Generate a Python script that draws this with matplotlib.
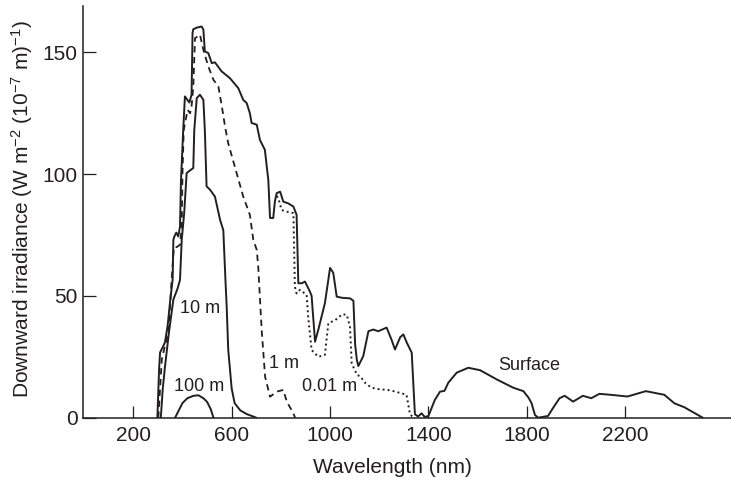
import matplotlib
matplotlib.use("Agg")
import matplotlib.pyplot as plt

plt.rcParams["font.family"] = ["Liberation Sans", "DejaVu Sans"]
plt.rcParams["mathtext.fontset"] = "custom"
plt.rcParams["mathtext.rm"] = "Liberation Sans"
plt.rcParams["mathtext.it"] = "Liberation Sans:italic"

# downward irradiance spectra
wl_surface = [298, 305, 309, 320, 329, 340, 350, 360, 363, 367, 375, 383, 390,
              394, 403, 410, 420, 428, 437, 441, 444, 460, 478, 485, 491, 505,
              519, 532, 559, 593, 627, 647, 661, 674, 681, 702, 715, 735, 749,
              756, 769, 776, 783, 797, 810, 830, 851, 864, 871, 885, 898, 918,
              925, 939, 952, 979, 993, 1000, 1013, 1027, 1050, 1081, 1095, 1102,
              1109, 1115, 1135, 1156, 1176, 1196, 1230, 1250, 1264, 1285, 1298,
              1312, 1332, 1345, 1358, 1372, 1385, 1400, 1426, 1447, 1465, 1481,
              1515, 1562, 1610, 1678, 1745, 1786, 1807, 1819, 1833, 1846, 1886,
              1906, 1933, 1954, 1988, 2028, 2062, 2095, 2141, 2209, 2284, 2359,
              2400, 2440, 2515]
ir_surface = [0, 20, 26.8, 29, 31, 38, 48, 56.6, 73, 74.4, 76, 74.4, 78.5,
              97.6, 118, 131.9, 130.5, 129.4, 132.6, 158, 159.5, 160.2, 160.6,
              159.3, 150.4, 149.7, 145.6, 145.9, 142.2, 139.4, 135.3, 130.5,
              129.2, 125, 121, 120.3, 114, 110, 97.6, 82, 82, 89, 92.2, 92.8,
              88.7, 88, 86.7, 83.3, 55.2, 55.2, 55.9, 51.8, 50, 31.2, 36, 47,
              56.6, 61.5, 59.5, 49.7, 49.2, 49, 48, 30, 23.7, 21.2, 25.3, 35.5,
              36.2, 35.5, 37, 32, 28, 33, 34.2, 30.8, 26.7, 1.4, 0.5, 1.8, 0.3,
              0.7, 7.3, 10.7, 11, 14.4, 18.5, 20.5, 19.5, 15.7, 12.3, 10.9, 8.2,
              6, 1.1, 0, 0.7, 3.9, 8, 9, 6.6, 9, 8, 9.8, 9.4, 8.7, 10.9, 9.4,
              5.9, 4.3, 0]

wl_001m = [783, 790, 803, 823, 851, 857, 864, 878, 905, 911, 925, 952, 979,
           993, 1020, 1050, 1068, 1081, 1088, 1110, 1122, 1145, 1169, 1203, 1230,
           1258, 1290, 1311, 1325, 1340]
ir_001m = [91, 90, 85.3, 84.6, 84, 53.8, 51, 52.5, 50.4, 41.5, 27.8, 25, 25.8,
           38.8, 40, 42.5, 42.2, 37.4, 22.3, 17.5, 17.1, 14, 12.3, 11.6, 11.5,
           10.9, 10, 9.4, 1.4, 0]

wl_1m = [302, 316, 330, 343, 355, 365, 376, 390, 397, 400, 405, 421, 431, 437,
         444, 451, 471, 485, 505, 526, 546, 559, 573, 586, 613, 647, 674, 688,
         702, 708, 715, 722, 736, 756, 783, 810, 824, 851, 858]
ir_1m = [0, 24, 30, 35, 55, 70, 70, 71, 78, 100, 118, 126.4, 125, 127.8, 136,
         155.8, 157.3, 151, 144.2, 138.7, 136, 128.5, 119.6, 112.7, 103, 90.8,
         83.3, 73, 68.9, 62, 49, 36, 16.8, 8.6, 10.7, 11.4, 6.6, 1.8, 0]

wl_10m = [312, 320, 329, 345, 363, 380, 390, 397, 407, 417, 424, 444, 448, 458,
          471, 485, 491, 498, 512, 532, 553, 566, 575, 580, 586, 600, 612, 635,
          661, 700]
ir_10m = [0, 12, 21, 35, 48.5, 53, 56.6, 73, 84, 100.4, 101, 102.5, 118, 131.2,
          132.6, 130.5, 118, 95, 93.6, 90.8, 81.2, 77, 56, 45, 28, 12, 6, 3,
          1.5, 0]

wl_100m = [370, 385, 400, 420, 445, 465, 485, 500, 515, 526]
ir_100m = [0, 3, 6, 8, 9, 9.2, 8, 6.5, 3.5, 0]

labels = ["10 m", "100 m", "1 m", "0.01 m", "Surface"]
label_x = [471, 468, 812, 1000, 1810]
label_y = [45, 12.7, 22.3, 12.7, 21.6]

fig = plt.figure(figsize=(7.31, 4.82), dpi=100)
ax = fig.add_axes([0.114, 0.1334, 0.886, 0.854])

ink = "#231f20"
ax.plot(wl_surface, ir_surface, color=ink, lw=1.4)
ax.plot(wl_001m, ir_001m, color=ink, lw=1.4, linestyle=(0, (1, 1.6)))
ax.plot(wl_1m, ir_1m, color=ink, lw=1.3, linestyle=(0, (3.5, 2.5)))
ax.plot(wl_10m, ir_10m, color=ink, lw=1.4)
ax.plot(wl_100m, ir_100m, color=ink, lw=1.4)

for txt, x, y in zip(labels, label_x, label_y):
    ax.text(x, y, txt, fontsize=13, color=ink, ha="center", va="center")

ax.set_xlim(-3, 2630)
ax.set_ylim(0, 169)
ax.set_xticks([200, 600, 1000, 1400, 1800, 2200])
ax.set_yticks([0, 50, 100, 150])

for side in ["top", "right"]:
    ax.spines[side].set_visible(False)
for side in ["left", "bottom"]:
    ax.spines[side].set_linewidth(1.1)
    ax.spines[side].set_color(ink)

ax.tick_params(direction="in", length=9, width=0.9, color=ink,
               labelsize=15, labelcolor=ink)
ax.tick_params(axis="x", pad=6)
ax.tick_params(axis="y", pad=4)

ax.set_xlabel("Wavelength (nm)", fontsize=15, color=ink, va="center")
ax.xaxis.set_label_coords(0.478, -0.12)
ax.set_ylabel(r"Downward irradiance (W m$^{-2}$ (10$^{-7}$ m)$^{-1}$)",
              fontsize=15, color=ink, va="center")
ax.yaxis.set_label_coords(-0.0946, 0.507)

fig.savefig("out.png", dpi=100)
